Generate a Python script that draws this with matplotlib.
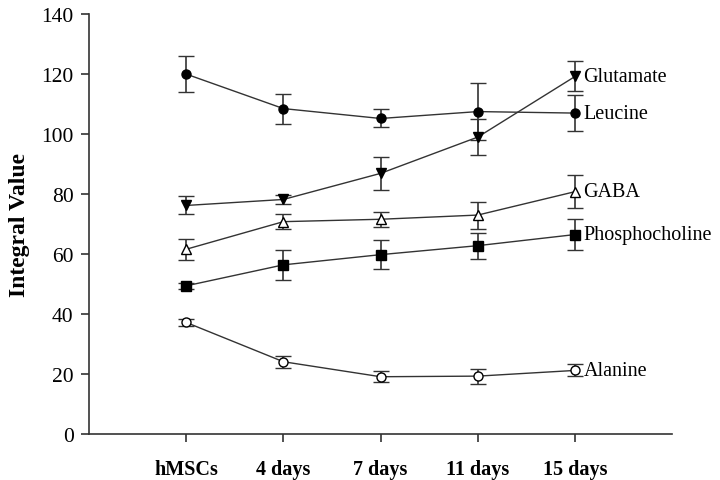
import numpy as np
import matplotlib.pyplot as plt

plt.rcParams['font.family'] = ['Liberation Serif', 'DejaVu Serif']

# sampling points on the x axis
stages = ['hMSCs', '4 days', '7 days', '11 days', '15 days']

# metabolite integral values (mean) and error bars
leucine = [120.0, 108.5, 105.2, 107.5, 107.0]
leucine_err = [6.0, 5.0, 3.0, 9.5, 6.0]

glutamate = [76.2, 78.2, 86.9, 99.0, 119.2]
glutamate_err = [3.0, 1.5, 5.5, 6.0, 5.0]

gaba = [61.6, 70.8, 71.6, 73.0, 80.8]
gaba_err = [3.5, 2.5, 2.5, 4.5, 5.5]

phosphocholine = [49.4, 56.4, 59.8, 62.8, 66.5]
phosphocholine_err = [1.0, 5.0, 4.8, 4.3, 5.2]

alanine = [37.2, 24.1, 19.1, 19.3, 21.2]
alanine_err = [1.2, 2.0, 1.9, 2.5, 2.0]

fig = plt.figure(figsize=(7.2, 4.81), dpi=100)
ax = fig.add_axes([0.1236, 0.0956, 0.81, 0.873])

x = np.arange(1, len(stages) + 1)
line_col = '#333333'

series = [
    ('Glutamate', glutamate, glutamate_err, 'v', 'black', 7),
    ('Leucine', leucine, leucine_err, 'o', 'black', 6.5),
    ('GABA', gaba, gaba_err, '^', 'white', 7),
    ('Phosphocholine', phosphocholine, phosphocholine_err, 's', 'black', 6.5),
    ('Alanine', alanine, alanine_err, 'o', 'white', 6.5),
]

for name, vals, err, mk, face, size in series:
    ax.errorbar(x, vals, yerr=err, color=line_col, lw=1.0, marker=mk,
                ms=size, mfc=face, mec='black', mew=1.0,
                ecolor=line_col, elinewidth=1.2, capsize=6, capthick=1.2, zorder=3)
    ax.annotate(name, (x[-1], vals[-1]), xytext=(6, 0), textcoords='offset points',
                va='center', ha='left', fontsize=14.5, color='black')

ax.set_xlim(0, 6)
ax.set_ylim(0, 140)
ax.set_yticks(np.arange(0, 141, 20))
ax.set_xticks(x)
ax.set_xticklabels(stages, fontweight='bold', fontsize=14.5)
ax.tick_params(axis='y', labelsize=15.5, length=6, width=1.2, color=line_col, pad=5)
ax.tick_params(axis='x', length=6, width=1.2, color=line_col, pad=12)
ax.set_ylabel('Integral Value', fontsize=17, fontweight='bold', labelpad=8)

for side in ['top', 'right']:
    ax.spines[side].set_visible(False)
for side in ['left', 'bottom']:
    ax.spines[side].set_linewidth(1.2)
    ax.spines[side].set_color(line_col)

fig.savefig('out.png', dpi=100)
